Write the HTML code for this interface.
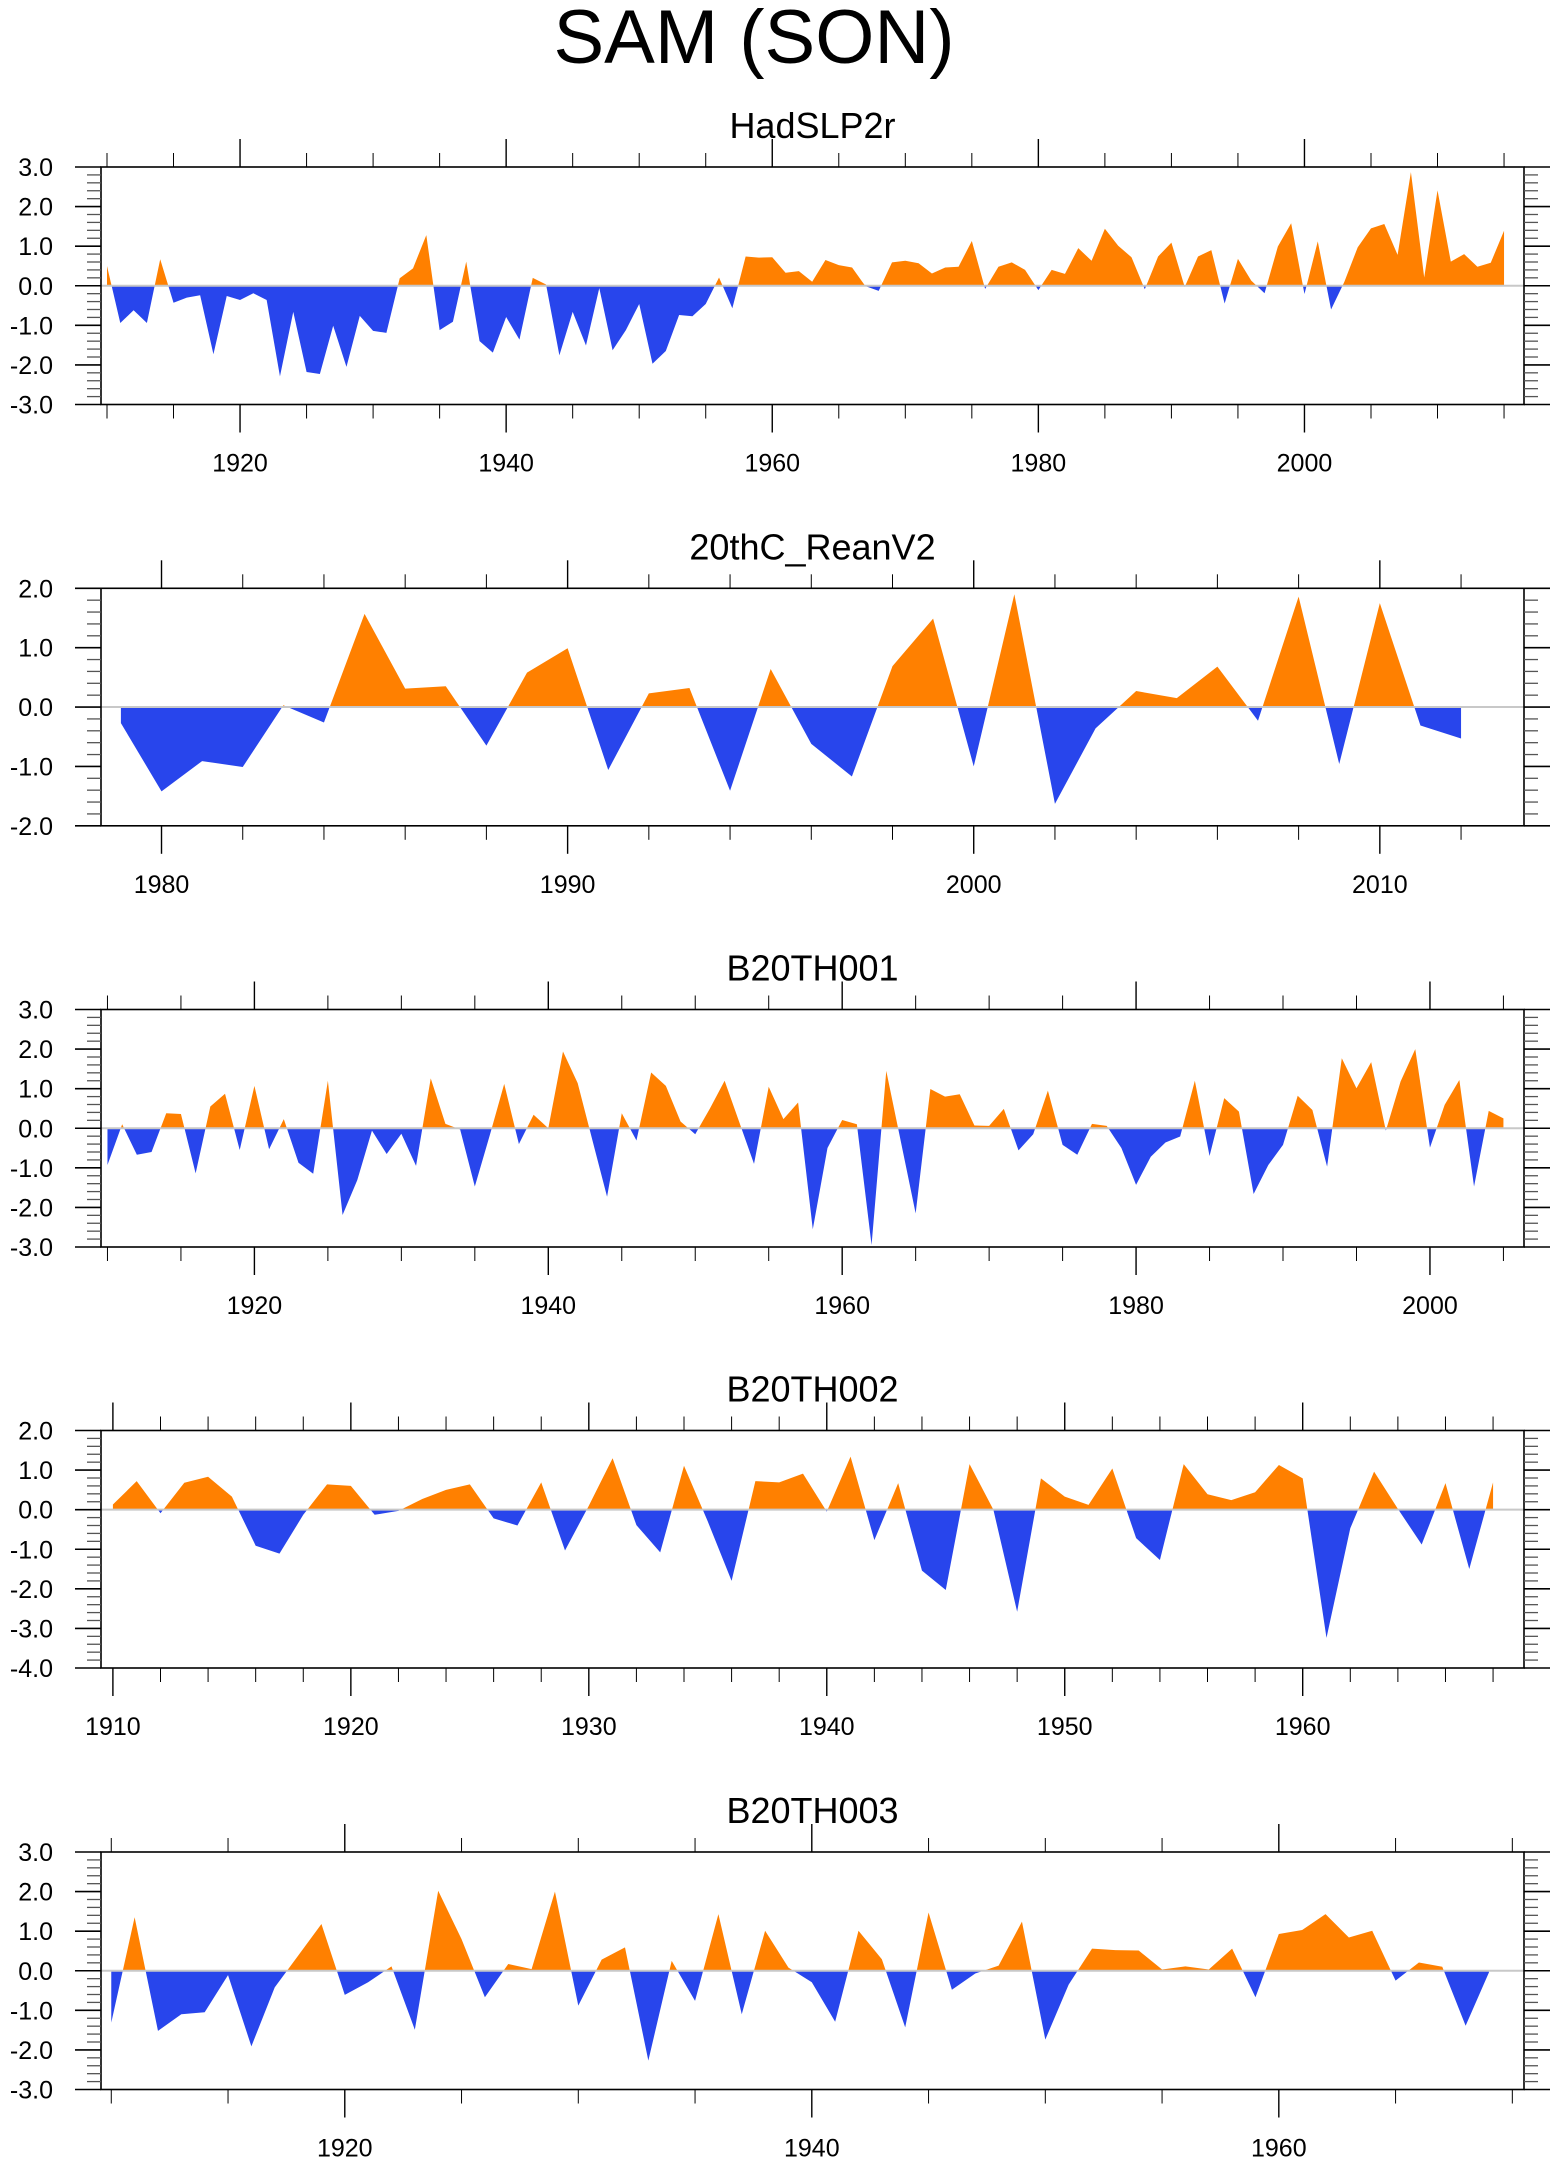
<!DOCTYPE html>
<html><head><meta charset="utf-8"><title>SAM (SON)</title>
<style>
html,body{margin:0;padding:0;background:#fff;}
svg{display:block;font-family:"Liberation Sans",Arial,sans-serif;}
</style></head>
<body>
<svg id="chart" width="1560" height="2165" viewBox="0 0 1560 2165" xmlns="http://www.w3.org/2000/svg">
<text x="754" y="63" text-anchor="middle" font-size="76">SAM (SON)</text>
</svg>
<script>
// ---- data ----
const panelTitles = ["HadSLP2r","20thC_ReanV2","B20TH001","B20TH002","B20TH003"];
const startYears = [1910,1979,1910,1910,1910];
const hadslp2r = [0.5,-0.94,-0.62,-0.94,0.67,-0.43,-0.3,-0.24,-1.73,-0.26,-0.36,-0.19,-0.36,-2.29,-0.66,-2.18,-2.23,-1.01,-2.05,-0.76,-1.14,-1.19,0.19,0.44,1.28,-1.12,-0.91,0.61,-1.4,-1.69,-0.79,-1.36,0.2,0.03,-1.76,-0.66,-1.51,-0.06,-1.63,-1.12,-0.46,-1.97,-1.65,-0.74,-0.77,-0.46,0.21,-0.57,0.74,0.71,0.72,0.33,0.37,0.1,0.65,0.52,0.46,-0.01,-0.13,0.59,0.63,0.57,0.31,0.46,0.48,1.13,-0.08,0.48,0.59,0.4,-0.11,0.4,0.3,0.95,0.63,1.44,1.01,0.72,-0.09,0.74,1.09,-0.03,0.74,0.9,-0.45,0.68,0.13,-0.19,0.99,1.58,-0.21,1.12,-0.6,0.1,0.97,1.45,1.56,0.78,2.87,0.21,2.41,0.61,0.8,0.48,0.58,1.39];
const reanV2 = [-0.27,-1.42,-0.91,-1.01,0.03,-0.26,1.57,0.31,0.35,-0.65,0.58,0.99,-1.06,0.23,0.32,-1.41,0.64,-0.62,-1.17,0.69,1.49,-1.0,1.9,-1.63,-0.36,0.27,0.15,0.68,-0.23,1.86,-0.96,1.75,-0.31,-0.53];
const b20th001 = [-0.93,0.1,-0.67,-0.6,0.38,0.36,-1.14,0.55,0.87,-0.55,1.07,-0.53,0.23,-0.87,-1.15,1.2,-2.19,-1.31,-0.06,-0.65,-0.14,-0.95,1.26,0.11,-0.03,-1.47,-0.2,1.12,-0.4,0.34,0.0,1.94,1.14,-0.3,-1.73,0.38,-0.31,1.41,1.07,0.17,-0.15,0.5,1.2,0.15,-0.9,1.05,0.23,0.65,-2.55,-0.5,0.21,0.1,-2.95,1.45,-0.35,-2.15,0.99,0.8,0.86,0.07,0.06,0.49,-0.56,-0.15,0.95,-0.42,-0.67,0.11,0.06,-0.5,-1.43,-0.72,-0.36,-0.21,1.2,-0.7,0.76,0.42,-1.66,-0.93,-0.42,0.82,0.46,-0.97,1.77,1.01,1.67,-0.06,1.18,2.0,-0.49,0.59,1.22,-1.47,0.44,0.25];
const b20th002 = [0.13,0.72,-0.09,0.68,0.83,0.33,-0.91,-1.11,-0.13,0.64,0.6,-0.13,-0.03,0.27,0.5,0.64,-0.22,-0.4,0.69,-1.03,0.1,1.3,-0.39,-1.08,1.11,-0.3,-1.8,0.72,0.69,0.91,-0.05,1.34,-0.77,0.67,-1.54,-2.03,1.15,0.0,-2.58,0.79,0.33,0.12,1.04,-0.72,-1.27,1.15,0.39,0.24,0.44,1.13,0.79,-3.24,-0.47,0.96,0.02,-0.88,0.67,-1.5,0.69];
const b20th003 = [-1.31,1.35,-1.52,-1.1,-1.05,-0.11,-1.91,-0.42,0.38,1.18,-0.61,-0.29,0.11,-1.49,2.02,0.8,-0.67,0.17,0.04,2.0,-0.88,0.28,0.59,-2.27,0.25,-0.76,1.43,-1.1,1.01,0.08,-0.29,-1.29,1.01,0.29,-1.43,1.47,-0.48,-0.07,0.13,1.24,-1.74,-0.35,0.56,0.52,0.51,0.03,0.11,0.03,0.56,-0.67,0.93,1.03,1.43,0.84,1.01,-0.25,0.21,0.1,-1.39,-0.04];
const xMins = [1909.55,1978.51,1909.56,1909.5,1909.56];
const xMaxs = [2016.5,2013.55,2006.4,1969.3,1970.5];
const yMins = [-3,-2,-3,-4,-3];
const yMaxs = [3,2,3,2,3];
const xMajorSteps = [20,10,20,10,20];
const xMinorSteps = [5,2,5,2,5];
const seriesList = [hadslp2r, reanV2, b20th001, b20th002, b20th003];

// ---- layout ----
const NS = "http://www.w3.org/2000/svg";
const svg = document.getElementById("chart");
const boxL = 101, boxR = 1524, boxH = 237.5;
const boxTops = [167, 588.3, 1009.5, 1430.5, 1852];
const ORANGE = "#ff8000", BLUE = "#2845ec";

function mk(tag, attrs, parent) {
  const e = document.createElementNS(NS, tag);
  for (const k in attrs) e.setAttribute(k, attrs[k]);
  (parent || svg).appendChild(e);
  return e;
}
function fmt(v){ const s = v.toFixed(1); return (s === "-0.0") ? "0.0" : s; }

for (let p = 0; p < 5; p++) {
  const top = boxTops[p], bot = top + boxH;
  const vals = seriesList[p], start = startYears[p];
  const x0 = xMins[p], x1 = xMaxs[p], y0 = yMins[p], y1 = yMaxs[p];
  const X = yr => boxL + (yr - x0) / (x1 - x0) * (boxR - boxL);
  const Y = v => bot - (v - y0) / (y1 - y0) * boxH;
  const zeroY = Y(0);

  const g = mk("g", {});
  
  

  const t = mk("text", {x: (boxL+boxR)/2, y: top - 29, "text-anchor": "middle", "font-size": 36}, g);
  t.textContent = panelTitles[p];
  
  

  // clip paths
  const defs = mk("defs", {}, g);
  const cpA = mk("clipPath", {id: "above" + p}, defs);
  mk("rect", {x: boxL, y: top, width: boxR - boxL, height: zeroY - top}, cpA);
  const cpB = mk("clipPath", {id: "below" + p}, defs);
  mk("rect", {x: boxL, y: zeroY, width: boxR - boxL, height: bot - zeroY}, cpB);

  let pts = X(start).toFixed(2) + "," + zeroY.toFixed(2) + " ";
  vals.forEach((v, i) => { pts += X(start + i).toFixed(2) + "," + Y(v).toFixed(2) + " "; });
  pts += X(start + vals.length - 1).toFixed(2) + "," + zeroY.toFixed(2);

  const pa = mk("polygon", {points: pts, fill: ORANGE, "clip-path": "url(#above" + p + ")"}, g);
  
  
  const pb = mk("polygon", {points: pts, fill: BLUE, "clip-path": "url(#below" + p + ")"}, g);
  
  

  const zl = mk("line", {x1: boxL, x2: boxR, y1: zeroY, y2: zeroY, stroke: "#c8c8c8", "stroke-width": 2}, g);
  
  

  const box = mk("rect", {x: boxL, y: top, width: boxR - boxL, height: boxH, fill: "none", stroke: "#000", "stroke-width": 1.6}, g);
  
  

  // x ticks
  const mn = xMinorSteps[p], mj = xMajorSteps[p];
  for (let yr = Math.ceil(x0 / mn) * mn; yr <= x1; yr += mn) {
    const xx = X(yr), major = (yr % mj === 0), len = major ? 28 : 14;
    mk("line", {x1: xx, x2: xx, y1: top, y2: top - len, stroke: "#000", "stroke-width": major ? 1.4 : 1}, g);
    mk("line", {x1: xx, x2: xx, y1: bot, y2: bot + len, stroke: "#000", "stroke-width": major ? 1.4 : 1}, g);
    if (major) {
      const lab = mk("text", {x: xx, y: bot + 67, "text-anchor": "middle", "font-size": 25}, g);
      lab.textContent = String(yr);
      
      
    }
  }
  // y ticks
  const nMinor = Math.round((y1 - y0) / 0.2);
  for (let k = 0; k <= nMinor; k++) {
    const v = y0 + k * 0.2, yy = Y(v);
    const major = (k % 5 === 0), len = major ? 26 : 14;
    mk("line", {x1: boxL, x2: boxL - len, y1: yy, y2: yy, stroke: major ? "#000" : "#555", "stroke-width": major ? 1.6 : 1.3}, g);
    mk("line", {x1: boxR, x2: boxR + len, y1: yy, y2: yy, stroke: major ? "#000" : "#555", "stroke-width": major ? 1.6 : 1.3}, g);
    if (major) {
      const lab = mk("text", {x: 53, y: yy + 9, "text-anchor": "end", "font-size": 25}, g);
      lab.textContent = fmt(v);
      
      
    }
  }
}
</script>
</body></html>
